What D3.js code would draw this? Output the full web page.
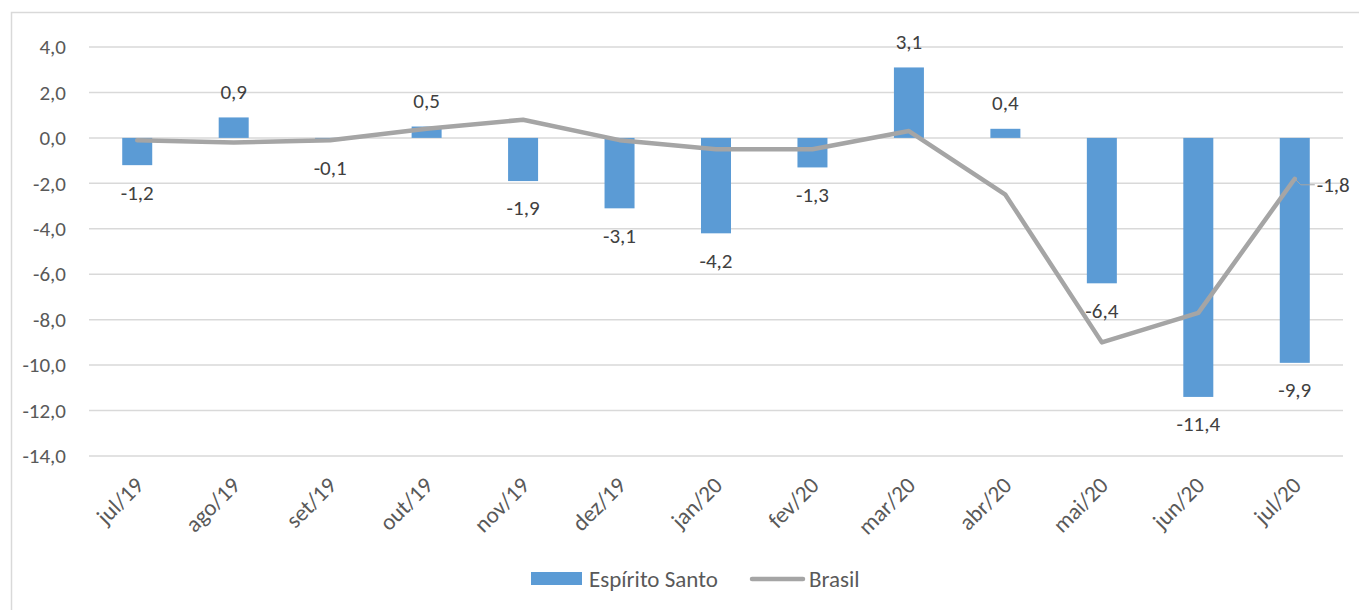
<!DOCTYPE html>
<html>
<head>
<meta charset="utf-8">
<script src="https://cdn.jsdelivr.net/npm/d3@7"></script>
<style>
  body { margin: 0; background: #fff; }
  text { font-family: Calibri, Carlito, Lato, sans-serif; }
</style>
</head>
<body>
<div id="chart"></div>
<script>
var categories = ["jul/19", "ago/19", "set/19", "out/19", "nov/19", "dez/19", "jan/20",
                  "fev/20", "mar/20", "abr/20", "mai/20", "jun/20", "jul/20"];
var espiritoSanto = [-1.2, 0.9, -0.1, 0.5, -1.9, -3.1, -4.2, -1.3, 3.1, 0.4, -6.4, -11.4, -9.9];
var brasil = [-0.1, -0.2, -0.1, 0.4, 0.8, -0.1, -0.5, -0.5, 0.3, -2.5, -9.0, -7.7, -1.8];
var yTicks = [4, 2, 0, -2, -4, -6, -8, -10, -12, -14];

var width = 1359, height = 610,
    margin = {top: 47, right: 16, bottom: 154, left: 89},
    fsNum = 21,   // numeric labels
    fsText = 23;  // category / legend labels

var fmt = function(v) { return d3.format(".1f")(v).replace(".", ",").replace("−", "-"); };

var svg = d3.select("#chart").append("svg")
    .attr("width", width).attr("height", height);

// chart frame
svg.append("rect")
    .attr("x", 11.5).attr("y", 12.5)
    .attr("width", width).attr("height", height)
    .attr("fill", "none").attr("stroke", "#d9d9d9").attr("stroke-width", 1.5);

var x = d3.scaleBand().domain(categories)
    .range([margin.left, width - margin.right]);
var y = d3.scaleLinear().domain([-14, 4])
    .range([height - margin.bottom, margin.top]);

// gridlines
svg.append("g").selectAll("line").data(yTicks).enter().append("line")
    .attr("x1", x.range()[0]).attr("x2", x.range()[1])
    .attr("y1", function(d) { return y(d); }).attr("y2", function(d) { return y(d); })
    .attr("stroke", "#d9d9d9").attr("stroke-width", 1.5);

// y axis labels
var yAxis = d3.axisLeft(y).tickValues(yTicks).tickFormat(fmt).tickSize(0).tickPadding(23);
var gy = svg.append("g").attr("transform", "translate(" + margin.left + ",0)").call(yAxis);
gy.select(".domain").remove();
gy.selectAll("text").attr("font-size", fsNum).attr("font-family", null).attr("fill", "#595959");

// x axis labels
var xAxis = d3.axisBottom(x).tickSize(0).tickPadding(0);
var gx = svg.append("g").attr("transform", "translate(0," + y(-14) + ")").call(xAxis);
gx.select(".domain").remove();
gx.selectAll("text")
    .attr("font-size", fsText).attr("font-family", null).attr("fill", "#595959")
    .attr("text-anchor", "end")
    .attr("y", 0).attr("dy", "0.35em")
    .attr("transform", "translate(2,25) rotate(-45)");

// bars
var barW = 30;
svg.append("g").selectAll("rect").data(espiritoSanto).enter().append("rect")
    .attr("x", function(d, i) { return x(categories[i]) + x.bandwidth() / 2 - barW / 2; })
    .attr("y", function(d) { return y(Math.max(0, d)); })
    .attr("width", barW)
    .attr("height", function(d) { return Math.abs(y(d) - y(0)); })
    .attr("fill", "#5b9bd5");

// line
var line = d3.line()
    .x(function(d, i) { return x(categories[i]) + x.bandwidth() / 2; })
    .y(function(d) { return y(d); });
svg.append("path").datum(brasil)
    .attr("d", line)
    .attr("fill", "none").attr("stroke", "#a5a5a5")
    .attr("stroke-width", 4.5).attr("stroke-linejoin", "round").attr("stroke-linecap", "round");

// bar labels
svg.append("g").selectAll("text").data(espiritoSanto).enter().append("text")
    .attr("x", function(d, i) { return x(categories[i]) + x.bandwidth() / 2; })
    .attr("y", function(d) { return d >= 0 ? y(d) - 26 : y(d) + 27; })
    .attr("dy", "0.35em")
    .attr("text-anchor", "middle")
    .attr("font-size", fsNum).attr("fill", "#404040")
    .text(fmt);

// Brasil last-point label with leader
var last = brasil.length - 1;
var lx = x(categories[last]) + x.bandwidth() / 2, ly = y(brasil[last]);
svg.append("path")
    .attr("d", "M" + lx + "," + ly + " L" + (lx + 6) + "," + (ly + 6) + " L" + (lx + 20) + "," + (ly + 6))
    .attr("fill", "none").attr("stroke", "#a5a5a5").attr("stroke-width", 1);
svg.append("text")
    .attr("x", lx + 22).attr("y", ly + 6).attr("dy", "0.35em")
    .attr("font-size", fsNum).attr("fill", "#404040")
    .text(fmt(brasil[last]));

// legend
var lg = svg.append("g").attr("transform", "translate(531,579)");
lg.append("rect").attr("x", 0).attr("y", -7).attr("width", 51).attr("height", 13).attr("fill", "#5b9bd5");
lg.append("text").attr("x", 58).attr("y", 0).attr("dy", "0.35em")
    .attr("font-size", fsText).attr("fill", "#595959").text("Espírito Santo");
lg.append("line").attr("x1", 221).attr("x2", 272).attr("y1", 0).attr("y2", 0)
    .attr("stroke", "#a5a5a5").attr("stroke-width", 4.5).attr("stroke-linecap", "round");
lg.append("text").attr("x", 278).attr("y", 0).attr("dy", "0.35em")
    .attr("font-size", fsText).attr("fill", "#595959").text("Brasil");
</script>
</body>
</html>
